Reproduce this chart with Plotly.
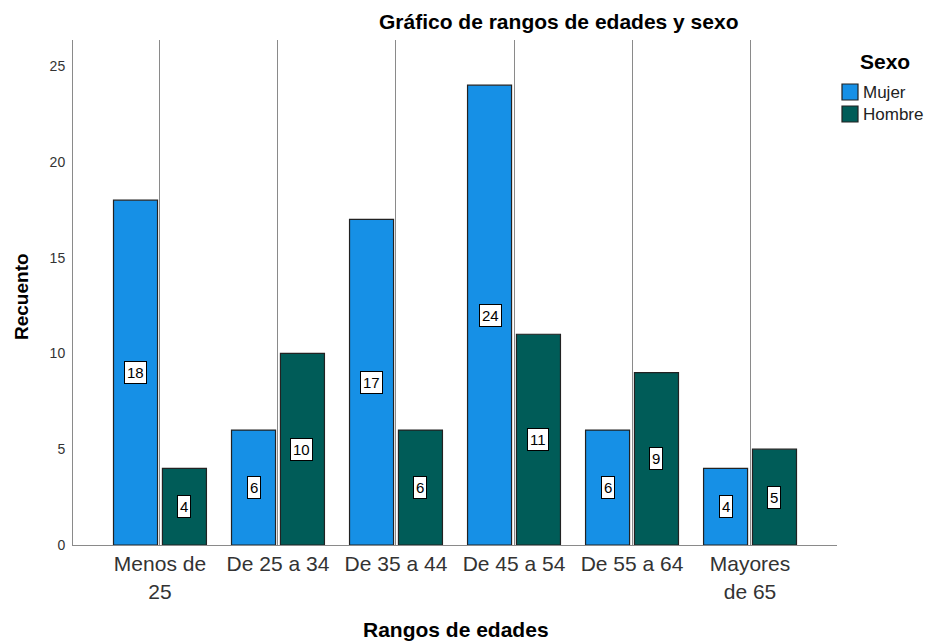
import plotly.graph_objects as go

categories = ["Menos de<br>25", "De 25 a 34", "De 35 a 44", "De 45 a 54", "De 55 a 64", "Mayores<br>de 65"]
mujer = [18, 6, 17, 24, 6, 4]
hombre = [4, 10, 6, 11, 9, 5]
y_ticks = [0, 5, 10, 15, 20, 25]
series_names = ["Mujer", "Hombre"]

c_mujer = "#1690E6"
c_hombre = "#005C58"
colors = [c_mujer, c_hombre]

W, H = 925, 641
L, R, T, B = 73, 88, 40, 96
pw, ph = W - L - R, H - T - B

def px(x):
    return (x - L) / pw

def py(y):
    return (H - B - y) / ph

fig = go.Figure()
for name, vals, col in zip(series_names, [mujer, hombre], colors):
    fig.add_trace(go.Bar(name=name, x=categories, y=vals, showlegend=False, hoverinfo="skip",
                         marker=dict(color=col, line=dict(color="#222222", width=1.2))))

annotations = []
for i, (m, h) in enumerate(zip(mujer, hombre)):
    for val, shift in ((m, -24), (h, 24)):
        annotations.append(dict(x=categories[i], y=val / 2, xref="x", yref="y", text=str(val), showarrow=False,
                                xshift=shift, bgcolor="white", bordercolor="black", borderwidth=1, borderpad=2,
                                font=dict(family="Arial", size=15, color="black")))

# titles
annotations.append(dict(x=px(558), y=py(22), xref="paper", yref="paper", text="<b>Gráfico de rangos de edades y sexo</b>",
                        showarrow=False, xanchor="center", yanchor="middle", font=dict(family="Arial", size=21, color="black")))
annotations.append(dict(x=px(456), y=py(629), xref="paper", yref="paper", text="<b>Rangos de edades</b>",
                        showarrow=False, xanchor="center", yanchor="middle", font=dict(family="Arial", size=21, color="black")))
annotations.append(dict(x=px(21), y=py(297), xref="paper", yref="paper", text="<b>Recuento</b>", textangle=-90,
                        showarrow=False, xanchor="center", yanchor="middle", font=dict(family="Arial", size=19, color="black")))

# legend (manual)
annotations.append(dict(x=px(885), y=py(61), xref="paper", yref="paper", text="<b>Sexo</b>",
                        showarrow=False, xanchor="center", yanchor="middle", font=dict(family="Arial", size=21, color="black")))
shapes = []
for k, (name, col) in enumerate(zip(series_names, colors)):
    yc = 92 + 22 * k
    shapes.append(dict(type="rect", xref="paper", yref="paper", x0=px(842), x1=px(858), y0=py(yc + 8), y1=py(yc - 8),
                       fillcolor=col, line=dict(color="#222222", width=1.2)))
    annotations.append(dict(x=px(861), y=py(yc), xref="paper", yref="paper", text=name, showarrow=False,
                            xanchor="left", yanchor="middle", font=dict(family="Arial", size=17, color="#222222")))

fig.update_layout(
    width=W, height=H,
    margin=dict(l=L, r=R, t=T, b=B, autoexpand=False),
    paper_bgcolor="white", plot_bgcolor="white",
    barmode="group", bargap=0.171, bargroupgap=0.1,
    font=dict(family="Arial", color="#222222"),
    showlegend=False,
    hovermode=False,
    annotations=annotations,
    shapes=shapes,
    xaxis=dict(range=[-0.737, 5.737], showgrid=True, gridcolor="#8a8a8a", gridwidth=1, automargin=False,
               showline=True, linecolor="#8a8a8a", linewidth=1, ticks="",
               tickfont=dict(family="Arial", size=21, color="#333333")),
    yaxis=dict(range=[0, 26.36], tickvals=y_ticks, showgrid=False, showline=True, linecolor="#8a8a8a",
               linewidth=1, ticks="", zeroline=False, automargin=False, ticklabelstandoff=4,
               tickfont=dict(family="Arial", size=14, color="#333333")),
)

fig.write_html("out.html", config={"displayModeBar": False},
               post_script="document.body.style.margin='0';document.body.style.overflow='hidden';")
